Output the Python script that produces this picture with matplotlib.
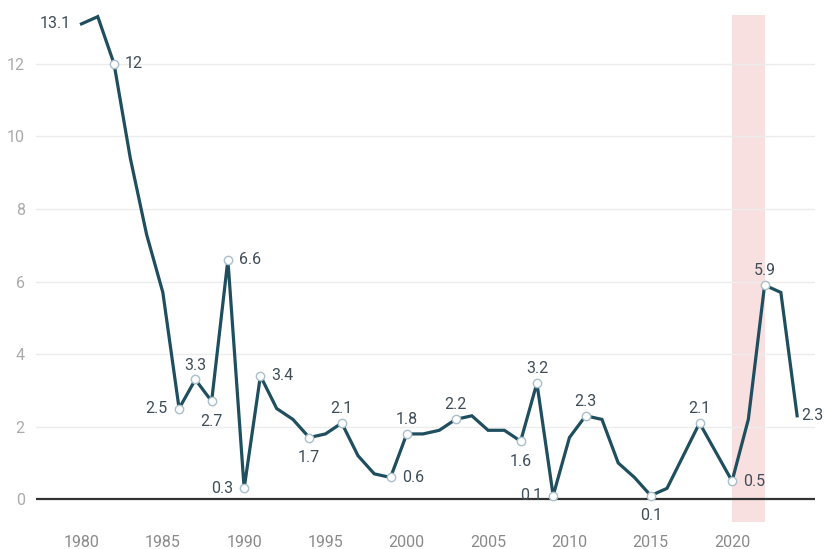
import matplotlib
matplotlib.use("Agg")
import matplotlib.pyplot as plt
import numpy as np

plt.rcParams['font.family'] = ['Roboto', 'DejaVu Sans']

years = list(range(1980, 2025))
values = [13.1, 13.3, 12.0, 9.4, 7.3, 5.7, 2.5, 3.3, 2.7, 6.6,
          0.3, 3.4, 2.5, 2.2, 1.7, 1.8, 2.1, 1.2, 0.7, 0.6,
          1.8, 1.8, 1.9, 2.2, 2.3, 1.9, 1.9, 1.6, 3.2, 0.1,
          1.7, 2.3, 2.2, 1.0, 0.6, 0.1, 0.3, 1.2, 2.1, 1.3,
          0.5, 2.2, 5.9, 5.7, 2.3]

# labelled years and where the label sits
label_pos = {1980: 'left', 1982: 'right', 1986: 'left', 1987: 'above', 1988: 'below',
             1989: 'right', 1990: 'left', 1991: 'right', 1994: 'below', 1996: 'above',
             1999: 'right', 2000: 'above', 2003: 'above', 2007: 'below', 2008: 'above',
             2009: 'left', 2011: 'above', 2015: 'below', 2018: 'above', 2020: 'right',
             2022: 'above', 2024: 'end'}
no_marker = [1980, 2024]

shade_start, shade_end = 2020, 2022

line_color = '#1f4f5f'
text_color = '#3f4d58'

fig = plt.figure(figsize=(8.27, 5.49), dpi=100)
ax = fig.add_axes([0.0435, 0.049, 0.942, 0.924])

ax.axvspan(shade_start, shade_end, color='#f8e0e0', zorder=0, lw=0)
for yv in range(2, 13, 2):
    ax.axhline(yv, color='#ececec', lw=1, zorder=1)
ax.axhline(0, color='#333333', lw=1.6, zorder=2)

ax.plot(years, values, color=line_color, lw=2.3, zorder=3, solid_joinstyle='miter', clip_on=False)

offsets = {'left': ((-8, 0), 'right', 'center'),
           'right': ((8, 0), 'left', 'center'),
           'end': ((3, 0), 'left', 'center'),
           'above': ((0, 5), 'center', 'bottom'),
           'below': ((0, -9), 'center', 'top')}
for yr, pos in label_pos.items():
    v = values[years.index(yr)]
    if yr not in no_marker:
        ax.plot(yr, v, marker='o', ms=6, mfc='white', mec='#a9bfcc', mew=1.0, zorder=4, clip_on=False)
    off, ha, va = offsets[pos]
    ax.annotate(f"{v:g}", xy=(yr, v), xytext=off, textcoords='offset points',
                ha=ha, va=va, fontsize=11.5, color=text_color, zorder=5)

ax.set_xlim(1977.2, 2025.1)
ax.set_ylim(-0.63, 13.35)
ax.set_xticks(range(1980, 2021, 5))
ax.set_yticks(range(0, 13, 2))
ax.tick_params(axis='x', length=0, pad=9, labelsize=11.5, labelcolor='#8a8a8a')
ax.tick_params(axis='y', length=0, pad=8, labelsize=11.5, labelcolor='#ababab')
for s in ax.spines.values():
    s.set_visible(False)

fig.savefig('out.png', dpi=100)
